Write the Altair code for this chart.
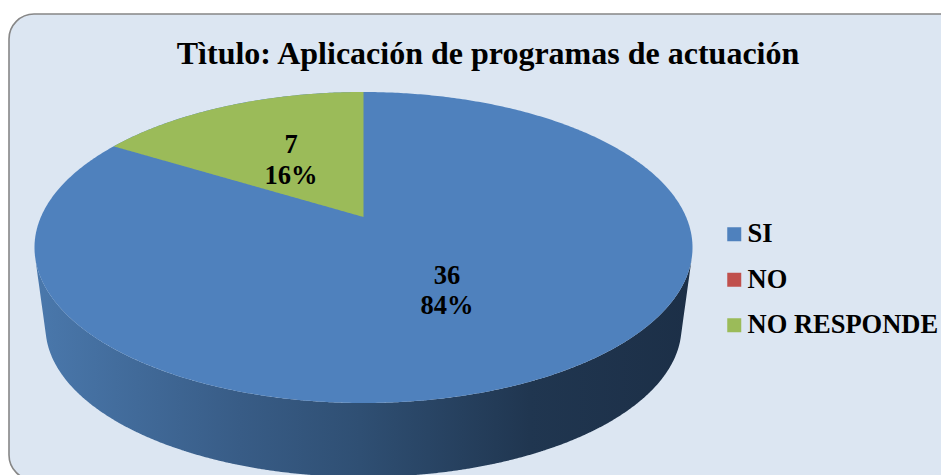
import numpy as np
import pandas as pd
import altair as alt

categories = ["SI", "NO", "NO RESPONDE"]
values = [36, 0, 7]
percents = ["84%", "0%", "16%"]
colors = ["#4F81BD", "#C0504D", "#9BBB59"]
title_text = "Tìtulo: Aplicación de programas de actuación"

FONT = "Liberation Serif"
CX, TOP, BOTTOM, APEX, RX = 363.5, 92.0, 403.0, 217.0, 329.0
BASE_CX, BASE_CY, BASE_RX, BASE_RY = 363.5, 327.0, 318.0, 150.0

# perspective projection of the pie's circle onto the picture
cy = (TOP + BOTTOM) / 2
ry = (BOTTOM - TOP) / 2
c = (2 * APEX - TOP - BOTTOM) / (TOP - BOTTOM)
a = TOP * (1 + c) - APEX
d = RX * np.sqrt(1 - c ** 2)


def project(theta):
    u, v = np.sin(theta), np.cos(theta)
    den = 1 + c * v
    return CX + d * u / den, (a * v + APEX) / den


# top surface: the whole ellipse, SI
t = np.linspace(0, np.pi, 361)
ex = CX - RX * np.cos(t)
top_df = pd.DataFrame({
    "x": ex,
    "y": cy - ry * np.sin(t),
    "y2": cy + ry * np.sin(t),
    "cat": categories[0],
})

# NO RESPONDE wedge, ending at 12 o'clock
share = values[2] / sum(values)
th = np.linspace(-2 * np.pi * share, 0, 180)
wx, wy = project(th)
wy2 = np.interp(wx, [wx[0], CX], [wy[0], APEX])
wedge_df = pd.DataFrame({"x": wx, "y": wy, "y2": wy2, "cat": categories[2]})

# wall: hull of the top ellipse's and the base ellipse's lower halves
tx = CX - RX * np.cos(t)
ty = cy + ry * np.sin(t)
bx = BASE_CX - BASE_RX * np.cos(t)
by = BASE_CY + BASE_RY * np.sin(t)
pts = sorted(zip(np.r_[tx, bx], np.r_[ty, by]))
hull = []
for p in pts:
    while len(hull) >= 2 and (
        (hull[-1][0] - hull[-2][0]) * (p[1] - hull[-2][1])
        - (hull[-1][1] - hull[-2][1]) * (p[0] - hull[-2][0])
    ) >= 0:
        hull.pop()
    hull.append(p)
hx = np.array([q[0] for q in hull])
hy = np.array([q[1] for q in hull])
gx = np.unique(np.r_[tx, hx])
wall_df = pd.DataFrame({
    "x": gx,
    "y": np.interp(gx, hx, hy),
    "y2": np.interp(gx, tx, ty),
})

x_scale = alt.Scale(domain=[8, 941], nice=False, zero=False)
y_scale = alt.Scale(domain=[475, 8], nice=False, zero=False)
X = alt.X("x:Q", scale=x_scale, axis=None)
Y = alt.Y("y:Q", scale=y_scale, axis=None)

frame = alt.Chart(pd.DataFrame({"x": [9], "x2": [965], "y": [14], "y2": [480]})).mark_rect(
    fill="#DCE6F2", stroke="#878787", strokeWidth=1.6, cornerRadius=25, clip=True
).encode(x=X, x2="x2:Q", y=Y, y2="y2:Q")


def stop(px, color):
    return alt.GradientStop(offset=(px - (CX - RX)) / (2 * RX), color=color)


wall = alt.Chart(wall_df).mark_area(
    clip=True,
    color=alt.Gradient(
        gradient="linear",
        x1=0, x2=1, y1=0, y2=0,
        stops=[
            stop(34.5, "#4A78AC"),
            stop(240, "#385C86"),
            stop(360, "#2F4F73"),
            stop(530, "#203650"),
            stop(692.5, "#1C2F47"),
        ],
    ),
).encode(x=X, y=Y, y2="y2:Q")

color = alt.Color(
    "cat:N",
    scale=alt.Scale(domain=categories, range=colors),
    legend=alt.Legend(
        orient="none", legendX=713, legendY=213, title=None,
        symbolType="square", symbolSize=196, symbolStrokeWidth=0,
        symbolOpacity=1, labelFont=FONT, labelFontSize=26.5,
        labelFontWeight="bold", labelColor="black", labelOffset=0,
        labelLimit=400, rowPadding=18.5, padding=0,
    ),
)
top = alt.Chart(top_df).mark_area().encode(x=X, y=Y, y2="y2:Q", color=color)
wedge = alt.Chart(wedge_df).mark_area().encode(x=X, y=Y, y2="y2:Q", color=color)


def text(s, x, y, size):
    return alt.Chart(pd.DataFrame({"x": [x], "y": [y], "t": [s]})).mark_text(
        font=FONT, fontWeight="bold", fontSize=size, color="black",
        align="center", baseline="alphabetic",
    ).encode(x=X, y=Y, text="t:N")


texts = [
    text(title_text, 488, 64, 32),
    text(str(values[0]), 447, 284, 26.5),
    text(percents[0], 447, 314, 26.5),
    text(str(values[2]), 291, 153, 26.5),
    text(percents[2], 291, 184, 26.5),
]

chart = alt.layer(frame, wall, top, wedge, *texts).properties(
    width=933, height=467, padding=0, background="white",
    autosize=alt.AutoSizeParams(type="none"),
).configure_view(strokeWidth=0)

chart.save("out.html", embed_options={"renderer": "svg", "actions": False})
